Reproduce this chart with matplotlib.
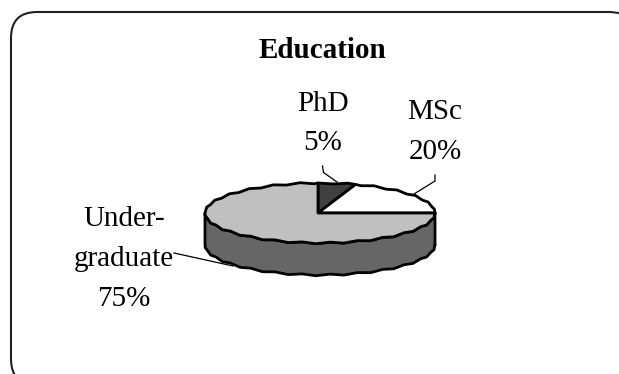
import numpy as np
import matplotlib
matplotlib.use("Agg")
import matplotlib.pyplot as plt
from matplotlib.patches import Polygon, FancyBboxPatch

title = "Education"
categories = ["PhD", "MSc", "Under-\ngraduate"]
shares = [5, 20, 75]
top_colors = ["#404040", "#ffffff", "#c0c0c0"]
side_color = "#666666"
outline = "#000000"

WIDTH, HEIGHT = 619, 374
CX, CY, RX, RY, DEPTH = 320, 213, 115, 30, 32
RIPPLE = 0.75  # slight scallop on the rim, in pixels

fig = plt.figure(figsize=(WIDTH / 100, HEIGHT / 100), dpi=100)
ax = fig.add_axes([0, 0, 1, 1])
ax.set_xlim(0, WIDTH)
ax.set_ylim(HEIGHT, 0)
ax.axis("off")

# Rounded panel, running off the right and bottom of the canvas
ax.add_patch(FancyBboxPatch((11, 12), 624, 373,
                            boxstyle="round,pad=0,rounding_size=26",
                            fc="white", ec="#222222", lw=1.5, clip_on=True))


def rim(a0, a1, pitch=7.0):
    # Points on the ellipse, angles measured clockwise from twelve o'clock.
    # Vertices sit on a fixed angular pitch so adjoining wedges line up.
    inner = np.arange(np.ceil(a0 / pitch), np.floor(a1 / pitch) + 1) * pitch
    t = np.unique(np.r_[a0, inner, a1])
    rad = np.radians(t)
    bump = RIPPLE * np.where(np.round(t / pitch).astype(int) % 2 == 0, 1, -1)
    bump[(t == a0) | (t == a1)] = 0
    return CX + RX * np.sin(rad), CY - RY * np.cos(rad) - bump * np.sign(np.cos(rad))


# Side wall: the front half of the disc
xs, ys = rim(90, 270)
wall = np.r_[np.c_[xs, ys], np.c_[xs[::-1], ys[::-1] + DEPTH]]
ax.add_patch(Polygon(wall, closed=True, fc=side_color, ec=outline, lw=2.0,
                     joinstyle="round", zorder=2))

# Top face wedges, clockwise from twelve o'clock
start = 0.0
for share, color in zip(shares, top_colors):
    end = start + 360 * share / sum(shares)
    xs, ys = rim(start, end)
    pts = np.r_[[[CX - 2, CY]], np.c_[xs - 2 * (np.abs(xs - CX) < 1), ys]]
    ax.add_patch(Polygon(pts, closed=True, fc=color, ec=outline, lw=2.0,
                         joinstyle="round", zorder=3))
    start = end

# Leader lines
leaders = [
    ([322.5, 323.5, 337], [166, 172.5, 182]),
    ([435, 435, 414], [175, 181, 194]),
    ([174, 233], [253, 266]),
]
for lx, ly in leaders:
    ax.plot(lx, ly, color="black", lw=0.9, zorder=4, solid_joinstyle="miter")

serif = "Liberation Serif"
ax.text(322.5, 50, title, family=serif, weight="bold", fontsize=21,
        ha="center", va="center", color="black")
label_pos = [(323, 123.5), (435, 132), (124, 259)]
for name, share, (x, y) in zip(categories, shares, label_pos):
    ax.text(x, y, f"{name}\n{share}%", family=serif, fontsize=21, ha="center",
            va="center", linespacing=1.68, color="black")

fig.savefig("out.png", dpi=100)
